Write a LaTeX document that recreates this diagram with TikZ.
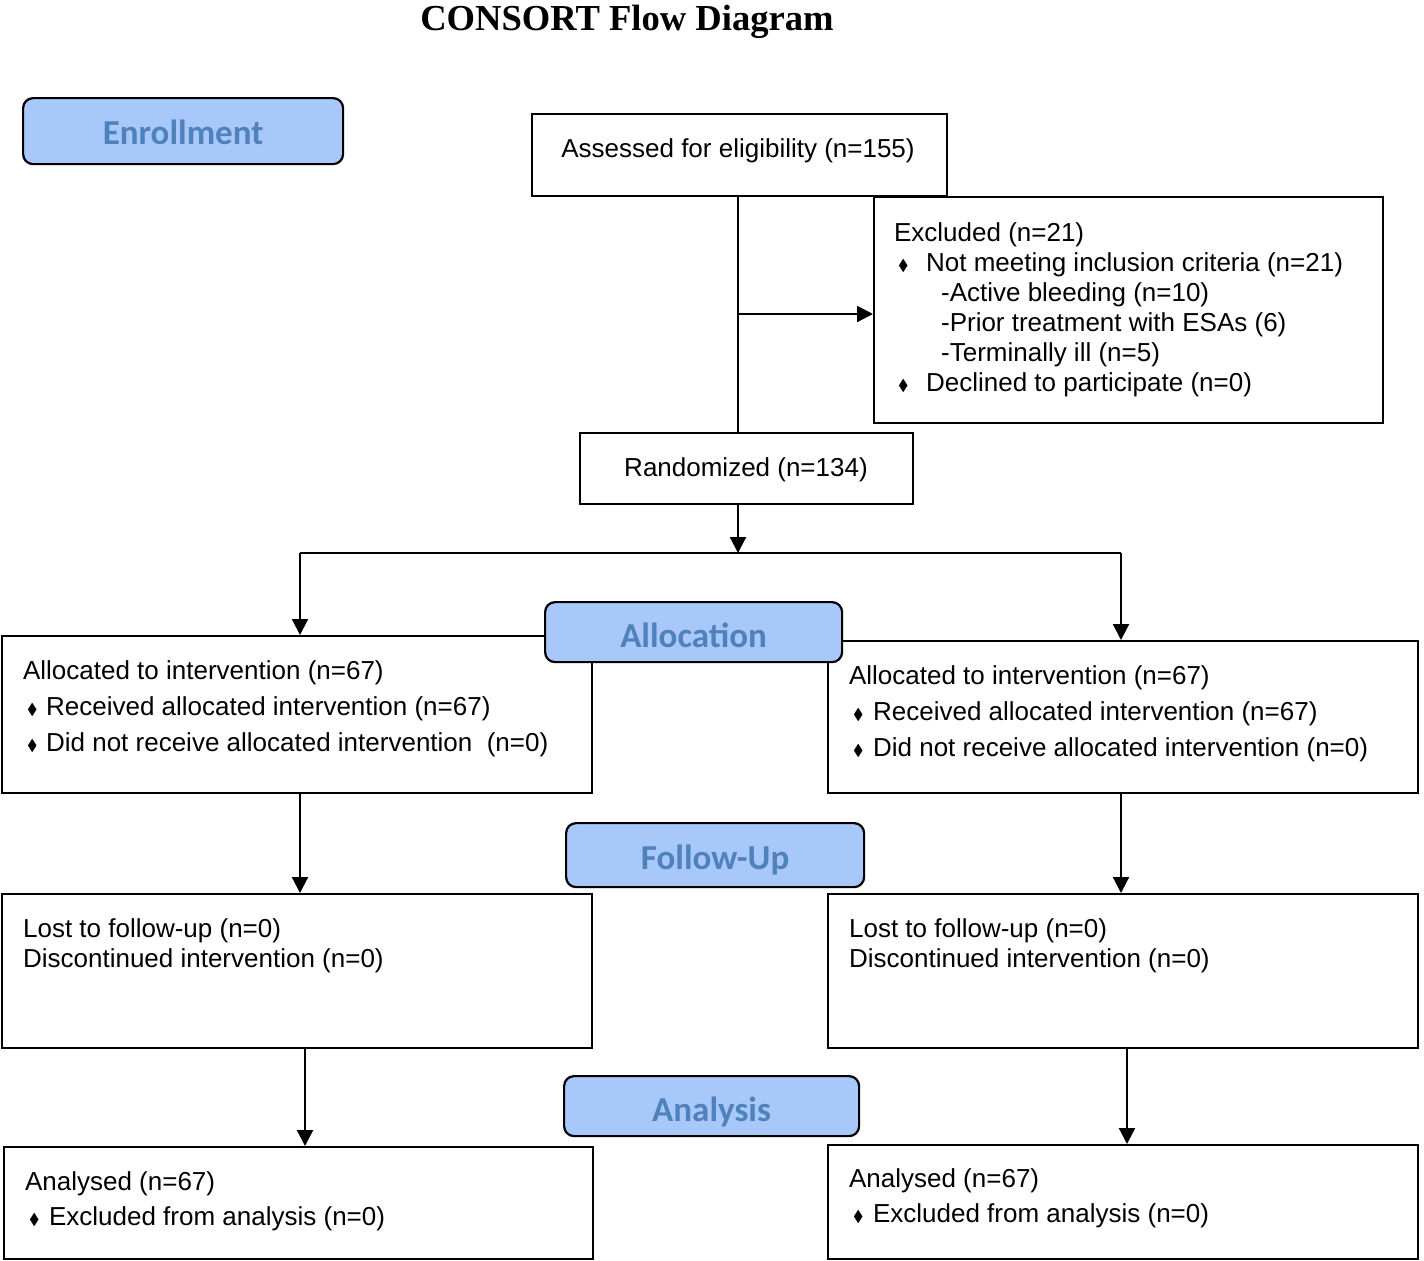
\documentclass[tikz,border=0pt]{standalone}
\usepackage{amssymb}
\usepackage{graphicx}
\usepackage{fontspec}
\setmainfont{Liberation Sans}
\newfontfamily\labelfont{Carlito}
\newfontfamily\titlefont{Liberation Serif}
\usetikzlibrary{arrows.meta}
\definecolor{lblfill}{RGB}{168,200,250}
\definecolor{lbltext}{RGB}{79,129,189}
\newcommand{\bul}[1]{\makebox[#1][l]{\hspace{2pt}\raisebox{0.6pt}{\scalebox{0.6}{$\blacklozenge$}}}}
\newcommand{\sinklbl}[2]{\raisebox{-#1}[\height][\depth]{#2}}
\begin{document}
\begin{tikzpicture}[x=0.5pt,y=-0.5pt,line width=1.1pt,>={Triangle[length=8pt,width=8pt]}]
	\tikzstyle{cbox}=[rectangle,draw=black,anchor=north west,inner sep=0pt]
	\tikzstyle{lbox}=[rectangle,rounded corners=5pt,draw=black,fill=lblfill,anchor=north west,inner sep=0pt,text=lbltext,font=\labelfont\bfseries\fontsize{17.5}{20}\selectfont]
	\tikzstyle{ctext}=[anchor=west,align=left,inner sep=0pt,font=\fontsize{13}{15}\selectfont]
	\tikzstyle{mtext}=[inner sep=0pt,font=\fontsize{13}{15}\selectfont]
	\useasboundingbox (0,0) rectangle (1424,1260);
	\node[anchor=base,inner sep=0pt,font=\titlefont\bfseries\fontsize{18.3}{20}\selectfont] (title) at (627,30) {CONSORT Flow Diagram};
	% boxes
	\node[cbox,minimum width=207.5pt,minimum height=41pt] (assess) at (531,113) {};
	\node[cbox,minimum width=254.5pt,minimum height=113pt] (excl) at (873,196) {};
	\node[cbox,minimum width=166.5pt,minimum height=35.5pt] (rand) at (579,432) {};
	\node[cbox,minimum width=295pt,minimum height=78.5pt] (allocL) at (1,635) {};
	\node[cbox,minimum width=295pt,minimum height=76pt] (allocR) at (827,640) {};
	\node[cbox,minimum width=295pt,minimum height=77pt] (fuL) at (1,893) {};
	\node[cbox,minimum width=295pt,minimum height=77pt] (fuR) at (827,893) {};
	\node[cbox,minimum width=294.5pt,minimum height=56pt] (anL) at (3,1146) {};
	\node[cbox,minimum width=295pt,minimum height=57pt] (anR) at (827,1144) {};
	% texts
	\node[mtext] (assess-t) at (738,151) {Assessed for eligibility (n=155)};
	\node[mtext] (rand-t) at (746,470) {Randomized (n=134)};
	\node[ctext] (excl-t) at (893,309.5) {Excluded (n=21)\\
		\bul{16pt}Not meeting inclusion criteria (n=21)\\
		\hspace*{23.5pt}-Active bleeding (n=10)\\
		\hspace*{23.5pt}-Prior treatment with ESAs (6)\\
		\hspace*{23.5pt}-Terminally ill (n=5)\\
		\bul{16pt}Declined to participate (n=0)};
	\node[ctext,font=\fontsize{13}{18}\selectfont] (allocL-t) at (22,709) {Allocated to intervention (n=67)\\
		\bul{11.5pt}Received allocated intervention (n=67)\\
		\bul{11.5pt}Did not receive allocated intervention\ \ (n=0)};
	\node[ctext,font=\fontsize{13}{18}\selectfont] (allocR-t) at (848,714) {Allocated to intervention (n=67)\\
		\bul{12pt}Received allocated intervention (n=67)\\
		\bul{12pt}Did not receive allocated intervention (n=0)};
	\node[ctext] (fuL-t) at (22,946) {Lost to follow-up (n=0)\\Discontinued intervention (n=0)};
	\node[ctext] (fuR-t) at (848,946) {Lost to follow-up (n=0)\\Discontinued intervention (n=0)};
	\node[ctext,font=\fontsize{13}{17.5}\selectfont] (anL-t) at (24,1201.5) {Analysed (n=67)\\
		\bul{12pt}Excluded from analysis (n=0)};
	\node[ctext,font=\fontsize{13}{17.5}\selectfont] (anR-t) at (848,1198.5) {Analysed (n=67)\\
		\bul{12pt}Excluded from analysis (n=0)};
	% stage labels
	\node[lbox,minimum width=160pt,minimum height=33pt] (enrol) at (22,97) {\sinklbl{0.5pt}{Enrollment}};
	\node[lbox,minimum width=148.5pt,minimum height=30pt] (allocation) at (544,601) {\sinklbl{1.5pt}{Allocation}};
	\node[lbox,minimum width=149pt,minimum height=32pt] (followup) at (565,822) {\sinklbl{2.5pt}{Follow-Up}};
	\node[lbox,minimum width=147.5pt,minimum height=30pt] (analysis) at (563,1075) {\sinklbl{3pt}{Analysis}};
	% connectors
	\coordinate (top) at (738,195);
	\coordinate (branch) at (738,314);
	\coordinate (split) at (738,553);
	\coordinate (splitL) at (300,553);
	\coordinate (splitR) at (1121,553);
	\draw (top) -- (top |- rand.north);
	\draw[->] (branch) -- (excl.west |- branch);
	\draw[->] (split |- rand.south) -- (split);
	\draw (splitL) -- (splitR);
	\draw[->] (splitL) -- (splitL |- allocL.north);
	\draw[->] (splitR) -- (splitR |- allocR.north);
	\draw[->] (splitL |- allocL.south) -- (splitL |- fuL.north);
	\draw[->] (splitR |- allocR.south) -- (splitR |- fuR.north);
	\coordinate (dropL) at (305,1047);
	\coordinate (dropR) at (1127,1047);
	\draw[->] (dropL) -- (dropL |- anL.north);
	\draw[->] (dropR) -- (dropR |- anR.north);
\end{tikzpicture}
\end{document}
